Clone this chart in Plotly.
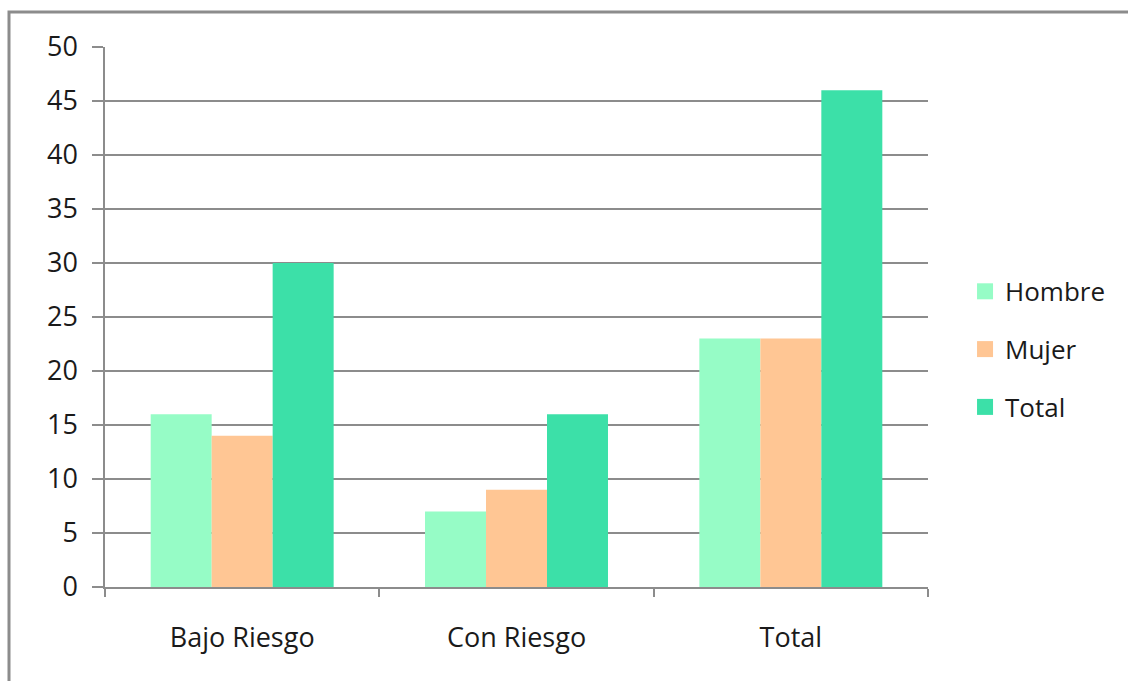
import plotly.graph_objects as go

categories = ["Bajo Riesgo", "Con Riesgo", "Total"]
hombre = [16, 7, 23]
mujer = [14, 9, 23]
total = [30, 16, 46]
series_names = ["Hombre", "Mujer", "Total"]
colors = ["#96FCC6", "#FFC694", "#3CE0A8"]

fig = go.Figure()
for i, (name, vals) in enumerate(zip(series_names, [hombre, mujer, total])):
    fig.add_trace(go.Bar(x=categories, y=vals, name=name, marker_color=colors[i],
                         marker_line_width=0, showlegend=False))
# legend entries with larger square swatches
for i, name in enumerate(series_names):
    fig.add_trace(go.Scatter(x=[None], y=[None], mode="markers", name=name,
                             marker=dict(symbol="square", size=17, color=colors[i]),
                             legendgroup=name, showlegend=True))

W, H = 1128, 681
L, R, T, B = 105, 200, 47, 94
pw, ph = W - L - R, H - T - B

def px_x(p):
    return (p - L) / pw

def px_y(p):
    return (H - B - p) / ph

fig.update_layout(
    width=W, height=H,
    margin=dict(l=L, r=R, t=T, b=B),
    paper_bgcolor="white", plot_bgcolor="white",
    barmode="group", bargap=0.333, bargroupgap=0,
    font=dict(family="Open Sans, DejaVu Sans, sans-serif", size=26, color="#1a1a1a"),
    showlegend=True,
    legend=dict(x=1.045, y=0.44, xanchor="left", yanchor="middle",
                tracegroupgap=21, font=dict(size=26), itemwidth=30,
                bgcolor="rgba(0,0,0,0)"),
    xaxis=dict(showgrid=False, showline=True, linecolor="#8c8c8c", linewidth=1.5,
               ticks="outside", tickson="boundaries", ticklen=8, tickcolor="#8c8c8c",
               tickwidth=1.5, tickfont=dict(size=27), ticklabelstandoff=26, fixedrange=True),
    yaxis=dict(range=[0, 50], dtick=5, showgrid=True, gridcolor="#8c8c8c", gridwidth=1.5,
               showline=True, linecolor="#8c8c8c", linewidth=1.5,
               ticks="outside", ticklen=11, tickcolor="#8c8c8c", tickwidth=1.5,
               ticklabelstandoff=9, tickfont=dict(size=27), zeroline=False),
    shapes=[dict(type="rect", xref="paper", yref="paper",
                 x0=px_x(9), x1=px_x(1135), y0=px_y(690), y1=px_y(12),
                 line=dict(color="#8c8c8c", width=3), fillcolor="rgba(0,0,0,0)", layer="below")],
)

fig.write_html("out.html")
